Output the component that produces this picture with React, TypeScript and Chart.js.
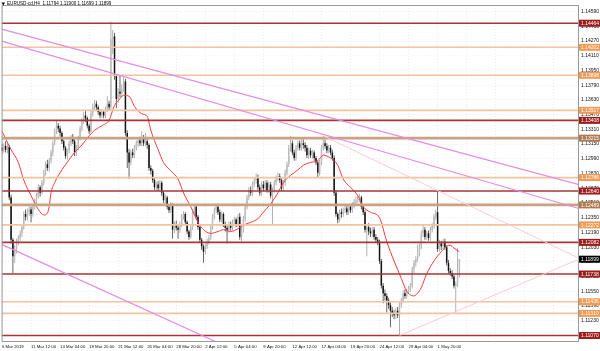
import React, { useEffect, useRef } from 'react';
import { Chart, registerables } from 'chart.js';

Chart.register(...registerables);

// ---------- data ----------
const symbolTitle = 'EURUSD-cd,H4  1.11794 1.11900 1.11699 1.11899';
const timeLabels = ['6 Mar 2019', '11 Mar 12:00', '14 Mar 04:00', '18 Mar 20:00', '21 Mar 12:00', '26 Mar 04:00', '28 Mar 20:00', '2 Apr 12:00', '5 Apr 04:00', '9 Apr 20:00', '12 Apr 12:00', '17 Apr 04:00', '19 Apr 20:00', '24 Apr 12:00', '29 Apr 04:00', '1 May 20:00'];
const barsPerLabel = 16;
const gridLastBar = 304;

const opens = [
  1.1311, 1.1308, 1.1313, 1.1309, 1.1312, 1.1257, 1.1211, 1.1193, 1.1201, 1.1209,
  1.1213, 1.1218, 1.1225, 1.1239, 1.1236, 1.1241, 1.1244, 1.1239, 1.1247, 1.1254,
  1.1259, 1.1268, 1.1262, 1.1273, 1.1284, 1.1293, 1.1289, 1.1297, 1.1306, 1.1316,
  1.1329, 1.1335, 1.1332, 1.1327, 1.1318, 1.1311, 1.1302, 1.1308, 1.1316, 1.1322,
  1.1318, 1.1306, 1.1311, 1.1322, 1.1332, 1.1340, 1.1346, 1.1343, 1.1335, 1.1329,
  1.1348, 1.1356, 1.1359, 1.1355, 1.1350, 1.1346, 1.1350, 1.1346, 1.1353, 1.1359,
  1.1355, 1.1429, 1.1432, 1.1389, 1.1364, 1.1372, 1.1370, 1.1375, 1.1383, 1.1327,
  1.1306, 1.1295, 1.1306, 1.1303, 1.1311, 1.1316, 1.1319, 1.1316, 1.1322, 1.1316,
  1.1318, 1.1314, 1.1289, 1.1286, 1.1276, 1.1268, 1.1271, 1.1267, 1.1273, 1.1262,
  1.1254, 1.1257, 1.1247, 1.1243, 1.1249, 1.1222, 1.1228, 1.1224, 1.1222, 1.1228,
  1.1236, 1.1239, 1.1230, 1.1220, 1.1214, 1.1225, 1.1241, 1.1247, 1.1236, 1.1225,
  1.1211, 1.1204, 1.1198, 1.1204, 1.1209, 1.1213, 1.1225, 1.1236, 1.1243, 1.1247,
  1.1241, 1.1233, 1.1239, 1.1228, 1.1224, 1.1222, 1.1228, 1.1224, 1.1230, 1.1233,
  1.1228, 1.1236, 1.1214, 1.1222, 1.1234, 1.1247, 1.1257, 1.1265, 1.1262, 1.1271,
  1.1276, 1.1279, 1.1268, 1.1262, 1.1271, 1.1267, 1.1273, 1.1265, 1.1271, 1.1259,
  1.1265, 1.1273, 1.1278, 1.1280, 1.1276, 1.1267, 1.1273, 1.1284, 1.1293, 1.1311,
  1.1316, 1.1306, 1.1300, 1.1311, 1.1316, 1.1311, 1.1316, 1.1314, 1.1311, 1.1303,
  1.1308, 1.1303, 1.1306, 1.1300, 1.1295, 1.1284, 1.1295, 1.1311, 1.1316, 1.1313,
  1.1308, 1.1311, 1.1306, 1.1300, 1.1262, 1.1239, 1.1233, 1.1241, 1.1239, 1.1243,
  1.1245, 1.1241, 1.1247, 1.1243, 1.1249, 1.1252, 1.1254, 1.1256, 1.1257, 1.1247,
  1.1241, 1.1222, 1.1225, 1.1220, 1.1218, 1.1222, 1.1214, 1.1211, 1.1209, 1.1188,
  1.1161, 1.1153, 1.1150, 1.1145, 1.1140, 1.1134, 1.1131, 1.1129, 1.1134, 1.1129,
  1.1140, 1.1145, 1.1153, 1.1150, 1.1155, 1.1158, 1.1161, 1.1179, 1.1186, 1.1190,
  1.1196, 1.1204, 1.1218, 1.1222, 1.1214, 1.1218, 1.1213, 1.1222, 1.1226, 1.1236,
  1.1241, 1.1201, 1.1207, 1.1204, 1.1209, 1.1203, 1.1186, 1.1177, 1.1175, 1.1171,
  1.1161, 1.1163, 1.11794,
];
const highs = [
  1.1315, 1.1316, 1.1318, 1.1316, 1.1314, 1.1260, 1.1213, 1.1205, 1.1212, 1.1216,
  1.1221, 1.1228, 1.1242, 1.1244, 1.1245, 1.1248, 1.1247, 1.1250, 1.1256, 1.1262,
  1.1271, 1.1270, 1.1276, 1.1287, 1.1296, 1.1298, 1.1300, 1.1309, 1.1319, 1.1332,
  1.1340, 1.1338, 1.1335, 1.1329, 1.1320, 1.1313, 1.1310, 1.1319, 1.1325, 1.1326,
  1.1320, 1.1314, 1.1324, 1.1335, 1.1343, 1.1350, 1.1351, 1.1345, 1.1337, 1.1351,
  1.1359, 1.1363, 1.1362, 1.1357, 1.1353, 1.1353, 1.1352, 1.1356, 1.1367, 1.1362,
  1.1448, 1.1439, 1.1436, 1.1391, 1.1376, 1.1389, 1.1380, 1.1389, 1.1386, 1.1330,
  1.1310, 1.1309, 1.1310, 1.1314, 1.1319, 1.1322, 1.1323, 1.1329, 1.1325, 1.1327,
  1.1321, 1.1316, 1.1292, 1.1288, 1.1278, 1.1274, 1.1275, 1.1276, 1.1275, 1.1264,
  1.1260, 1.1259, 1.1249, 1.1252, 1.1251, 1.1231, 1.1232, 1.1228, 1.1231, 1.1239,
  1.1242, 1.1241, 1.1232, 1.1222, 1.1228, 1.1244, 1.1250, 1.1249, 1.1238, 1.1227,
  1.1213, 1.1206, 1.1207, 1.1212, 1.1216, 1.1228, 1.1239, 1.1246, 1.1251, 1.1250,
  1.1244, 1.1242, 1.1241, 1.1231, 1.1227, 1.1231, 1.1231, 1.1233, 1.1236, 1.1235,
  1.1239, 1.1240, 1.1225, 1.1237, 1.1250, 1.1260, 1.1268, 1.1269, 1.1274, 1.1279,
  1.1283, 1.1282, 1.1271, 1.1274, 1.1275, 1.1276, 1.1276, 1.1274, 1.1274, 1.1268,
  1.1276, 1.1281, 1.1284, 1.1283, 1.1279, 1.1276, 1.1287, 1.1296, 1.1314, 1.1324,
  1.1319, 1.1309, 1.1314, 1.1319, 1.1319, 1.1322, 1.1320, 1.1317, 1.1314, 1.1311,
  1.1311, 1.1309, 1.1308, 1.1302, 1.1297, 1.1298, 1.1314, 1.1324, 1.1320, 1.1316,
  1.1314, 1.1314, 1.1309, 1.1303, 1.1265, 1.1241, 1.1244, 1.1245, 1.1246, 1.1249,
  1.1249, 1.1250, 1.1250, 1.1252, 1.1255, 1.1258, 1.1260, 1.1261, 1.1259, 1.1250,
  1.1243, 1.1228, 1.1229, 1.1224, 1.1225, 1.1225, 1.1217, 1.1214, 1.1211, 1.1190,
  1.1164, 1.1157, 1.1153, 1.1148, 1.1143, 1.1138, 1.1135, 1.1137, 1.1138, 1.1143,
  1.1148, 1.1156, 1.1157, 1.1158, 1.1161, 1.1164, 1.1182, 1.1189, 1.1193, 1.1206,
  1.1207, 1.1221, 1.1228, 1.1225, 1.1221, 1.1221, 1.1225, 1.1229, 1.1239, 1.1244,
  1.1265, 1.1211, 1.1210, 1.1212, 1.1212, 1.1205, 1.1189, 1.1180, 1.1178, 1.1173,
  1.1166, 1.1202, 1.11900,
];
const lows = [
  1.1305, 1.1306, 1.1306, 1.1305, 1.1254, 1.1207, 1.1175, 1.1186, 1.1196, 1.1205,
  1.1210, 1.1214, 1.1222, 1.1232, 1.1232, 1.1237, 1.1230, 1.1236, 1.1244, 1.1250,
  1.1256, 1.1258, 1.1260, 1.1270, 1.1281, 1.1286, 1.1285, 1.1294, 1.1302, 1.1314,
  1.1326, 1.1328, 1.1323, 1.1315, 1.1308, 1.1299, 1.1298, 1.1305, 1.1313, 1.1315,
  1.1302, 1.1302, 1.1308, 1.1319, 1.1329, 1.1337, 1.1339, 1.1332, 1.1326, 1.1327,
  1.1345, 1.1352, 1.1352, 1.1347, 1.1343, 1.1343, 1.1343, 1.1343, 1.1350, 1.1352,
  1.1352, 1.1413, 1.1385, 1.1354, 1.1360, 1.1366, 1.1366, 1.1372, 1.1324, 1.1289,
  1.1277, 1.1292, 1.1300, 1.1300, 1.1308, 1.1312, 1.1313, 1.1313, 1.1313, 1.1313,
  1.1310, 1.1286, 1.1282, 1.1273, 1.1265, 1.1264, 1.1264, 1.1264, 1.1259, 1.1251,
  1.1250, 1.1244, 1.1240, 1.1240, 1.1212, 1.1218, 1.1221, 1.1212, 1.1219, 1.1225,
  1.1233, 1.1227, 1.1217, 1.1211, 1.1212, 1.1222, 1.1238, 1.1233, 1.1222, 1.1208,
  1.1200, 1.1186, 1.1195, 1.1201, 1.1206, 1.1211, 1.1222, 1.1233, 1.1240, 1.1238,
  1.1230, 1.1230, 1.1225, 1.1220, 1.1207, 1.1219, 1.1221, 1.1221, 1.1227, 1.1225,
  1.1225, 1.1211, 1.1209, 1.1219, 1.1231, 1.1244, 1.1254, 1.1259, 1.1259, 1.1268,
  1.1272, 1.1265, 1.1259, 1.1259, 1.1264, 1.1264, 1.1262, 1.1262, 1.1256, 1.1228,
  1.1262, 1.1270, 1.1275, 1.1273, 1.1264, 1.1264, 1.1270, 1.1281, 1.1290, 1.1307,
  1.1303, 1.1297, 1.1297, 1.1308, 1.1308, 1.1308, 1.1310, 1.1307, 1.1300, 1.1299,
  1.1300, 1.1299, 1.1297, 1.1292, 1.1279, 1.1281, 1.1292, 1.1308, 1.1310, 1.1305,
  1.1305, 1.1303, 1.1297, 1.1259, 1.1236, 1.1229, 1.1230, 1.1235, 1.1236, 1.1240,
  1.1238, 1.1238, 1.1240, 1.1240, 1.1245, 1.1249, 1.1251, 1.1252, 1.1244, 1.1238,
  1.1219, 1.1193, 1.1216, 1.1214, 1.1214, 1.1211, 1.1208, 1.1205, 1.1185, 1.1158,
  1.1142, 1.1145, 1.1132, 1.1136, 1.1116, 1.1127, 1.1125, 1.1125, 1.1126, 1.1107,
  1.1137, 1.1142, 1.1147, 1.1147, 1.1152, 1.1154, 1.1158, 1.1175, 1.1182, 1.1187,
  1.1193, 1.1201, 1.1214, 1.1211, 1.1211, 1.1210, 1.1210, 1.1219, 1.1223, 1.1233,
  1.1198, 1.1198, 1.1200, 1.1201, 1.1200, 1.1183, 1.1174, 1.1172, 1.1168, 1.1158,
  1.1132, 1.1160, 1.11699,
];
const closes = [
  1.1308, 1.1313, 1.1309, 1.1312, 1.1257, 1.1211, 1.1193, 1.1201, 1.1209, 1.1213,
  1.1218, 1.1225, 1.1239, 1.1236, 1.1241, 1.1244, 1.1239, 1.1247, 1.1254, 1.1259,
  1.1268, 1.1262, 1.1273, 1.1284, 1.1293, 1.1289, 1.1297, 1.1306, 1.1316, 1.1329,
  1.1335, 1.1332, 1.1327, 1.1318, 1.1311, 1.1302, 1.1308, 1.1316, 1.1322, 1.1318,
  1.1306, 1.1311, 1.1322, 1.1332, 1.1340, 1.1346, 1.1343, 1.1335, 1.1329, 1.1348,
  1.1356, 1.1359, 1.1355, 1.1350, 1.1346, 1.1350, 1.1346, 1.1353, 1.1359, 1.1355,
  1.1429, 1.1432, 1.1389, 1.1364, 1.1372, 1.1370, 1.1375, 1.1383, 1.1327, 1.1306,
  1.1295, 1.1306, 1.1303, 1.1311, 1.1316, 1.1319, 1.1316, 1.1322, 1.1316, 1.1318,
  1.1314, 1.1289, 1.1286, 1.1276, 1.1268, 1.1271, 1.1267, 1.1273, 1.1262, 1.1254,
  1.1257, 1.1247, 1.1243, 1.1249, 1.1222, 1.1228, 1.1224, 1.1222, 1.1228, 1.1236,
  1.1239, 1.1230, 1.1220, 1.1214, 1.1225, 1.1241, 1.1247, 1.1236, 1.1225, 1.1211,
  1.1204, 1.1198, 1.1204, 1.1209, 1.1213, 1.1225, 1.1236, 1.1243, 1.1247, 1.1241,
  1.1233, 1.1239, 1.1228, 1.1224, 1.1222, 1.1228, 1.1224, 1.1230, 1.1233, 1.1228,
  1.1236, 1.1214, 1.1222, 1.1234, 1.1247, 1.1257, 1.1265, 1.1262, 1.1271, 1.1276,
  1.1279, 1.1268, 1.1262, 1.1271, 1.1267, 1.1273, 1.1265, 1.1271, 1.1259, 1.1265,
  1.1273, 1.1278, 1.1280, 1.1276, 1.1267, 1.1273, 1.1284, 1.1293, 1.1311, 1.1316,
  1.1306, 1.1300, 1.1311, 1.1316, 1.1311, 1.1316, 1.1314, 1.1311, 1.1303, 1.1308,
  1.1303, 1.1306, 1.1300, 1.1295, 1.1284, 1.1295, 1.1311, 1.1316, 1.1313, 1.1308,
  1.1311, 1.1306, 1.1300, 1.1262, 1.1239, 1.1233, 1.1241, 1.1239, 1.1243, 1.1245,
  1.1241, 1.1247, 1.1243, 1.1249, 1.1252, 1.1254, 1.1256, 1.1257, 1.1247, 1.1241,
  1.1222, 1.1225, 1.1220, 1.1218, 1.1222, 1.1214, 1.1211, 1.1209, 1.1188, 1.1161,
  1.1153, 1.1150, 1.1145, 1.1140, 1.1134, 1.1131, 1.1129, 1.1134, 1.1129, 1.1140,
  1.1145, 1.1153, 1.1150, 1.1155, 1.1158, 1.1161, 1.1179, 1.1186, 1.1190, 1.1196,
  1.1204, 1.1218, 1.1222, 1.1214, 1.1218, 1.1213, 1.1222, 1.1226, 1.1236, 1.1241,
  1.1201, 1.1207, 1.1204, 1.1209, 1.1203, 1.1186, 1.1177, 1.1175, 1.1171, 1.1161,
  1.1163, 1.11794, 1.11899,
];

// moving average at these bars
const maBars = [0, 5, 9, 12, 16, 20, 23, 25, 26, 27, 29, 33, 37, 40, 44, 48, 51, 55, 59, 62, 64, 67, 70, 73, 77, 80, 82, 86, 89, 93, 97, 100, 104, 108, 111, 115, 119, 122, 126, 130, 133, 137, 141, 144, 148, 152, 155, 159, 163, 166, 170, 174, 177, 179, 181, 185, 188, 192, 196, 199, 203, 208, 212, 216, 220, 223, 227, 229, 231, 234, 238, 242, 245, 247, 249, 252];
const maValues = [1.1329, 1.1309, 1.1295, 1.1276, 1.1259, 1.1244, 1.1238, 1.1240, 1.1247, 1.1262, 1.1273, 1.1287, 1.1298, 1.1306, 1.1314, 1.1324, 1.1330, 1.1335, 1.1341, 1.1357, 1.1362, 1.1368, 1.1367, 1.1356, 1.1348, 1.1345, 1.1330, 1.1309, 1.1295, 1.1286, 1.1277, 1.1262, 1.1247, 1.1230, 1.1222, 1.1218, 1.1220, 1.1222, 1.1220, 1.1223, 1.1227, 1.1230, 1.1234, 1.1241, 1.1250, 1.1262, 1.1273, 1.1281, 1.1287, 1.1292, 1.1295, 1.1297, 1.1303, 1.1302, 1.1300, 1.1292, 1.1277, 1.1268, 1.1259, 1.1247, 1.1241, 1.1235, 1.1209, 1.1188, 1.1169, 1.1155, 1.1150, 1.1153, 1.1159, 1.1174, 1.1188, 1.1198, 1.1204, 1.1205, 1.1202, 1.1198];

// horizontal levels
const levelPrices = [1.14464, 1.14202, 1.13898, 1.13517, 1.13408, 1.13215, 1.12786, 1.12640, 1.12489, 1.12272, 1.12082, 1.11738, 1.11436, 1.11310, 1.11070];
const levelKinds = ['R', 'O', 'O', 'O', 'R', 'B', 'O', 'R', 'B', 'O', 'R', 'R', 'O', 'O', 'R'];

// trend lines (bar index, price)
const trendStartBars = [-0.22, -0.22, -0.22, 177, 219];
const trendStartPrices = [1.1440, 1.1427, 1.1206, 1.1324, 1.1107];
const trendEndBars = [317.9, 317.9, 142.6, 317.9, 317.9];
const trendEndPrices = [1.1271, 1.1245, 1.1078, 1.1191, 1.1190];
const trendKinds = ['main', 'main', 'main', 'faint', 'faint'];

const priceTicks = [1.1459, 1.1443, 1.1427, 1.1411, 1.1395, 1.1379, 1.1363, 1.1347, 1.1331, 1.1315, 1.1299, 1.1283, 1.1267, 1.1251, 1.1235, 1.1219, 1.1203, 1.1187, 1.1171, 1.1155, 1.1139, 1.1123, 1.1107];
const lastPrice = 1.11899;

const xMin = -0.22;
const xMax = 317.9;
const yMin = 1.10999;
const yMax = 1.14662;

// ---------- styles ----------
const FONT = '"Liberation Sans", Arial, sans-serif';
const levelLineColor: Record<string, string> = { R: '#a83434', O: '#f3c29e', B: '#c9a282' };
const levelLineWidth: Record<string, number> = { R: 1.6, O: 1.6, B: 2.6 };
const levelBoxColor: Record<string, string> = { R: '#9c1c1c', O: '#ef9a55', B: '#ad7a52' };
const trendColor: Record<string, string> = { main: '#e48ce4', faint: '#ffc8d6' };

const overlayPlugin = {
  id: 'mt4overlay',
  afterDraw(chart: any) {
    const { ctx, chartArea: a, scales } = chart;
    const ys = scales.y;
    ctx.save();
    // frame
    ctx.strokeStyle = '#9a9a9a';
    ctx.lineWidth = 1;
    ctx.strokeRect(a.left + 0.5, a.top + 0.5, a.right - a.left - 1, a.bottom - a.top - 1);
    // level boxes on the price axis
    ctx.font = `5px ${FONT}`;
    ctx.textAlign = 'left';
    ctx.textBaseline = 'middle';
    const boxLeft = a.right;
    const boxW = chart.width - a.right;
    levelPrices.forEach((p, k) => {
      const py = ys.getPixelForValue(p);
      ctx.fillStyle = levelBoxColor[levelKinds[k]];
      ctx.fillRect(boxLeft, py - 3.5, boxW, 7);
      ctx.fillStyle = '#ffffff';
      ctx.fillText(p.toFixed(5), boxLeft + 2, py + 0.3);
    });
    const lp = ys.getPixelForValue(lastPrice);
    ctx.fillStyle = '#000000';
    ctx.fillRect(boxLeft, lp - 3.5, boxW, 7);
    ctx.fillStyle = '#ffffff';
    ctx.fillText(lastPrice.toFixed(5), boxLeft + 2, lp + 0.3);
    // header
    ctx.fillStyle = '#000';
    ctx.beginPath();
    ctx.moveTo(1.5, 2.5);
    ctx.lineTo(5, 2.5);
    ctx.lineTo(3.25, 5.5);
    ctx.closePath();
    ctx.fill();
    ctx.font = `4.6px ${FONT}`;
    ctx.textBaseline = 'middle';
    ctx.fillText(symbolTitle, 7, 4.2);
    ctx.restore();
  },
};

function buildConfig(): any {
  const isBull = closes.map((c, i) => c >= opens[i]);
  const bodyColors = isBull.map((b) => (b ? '#bdbdbd' : '#141414'));
  const wickColors = isBull.map((b) => (b ? '#a8a8a8' : '#555555'));

  const levelSets = levelPrices.map((p, k) => ({
    type: 'line',
    data: [{ x: xMin, y: p }, { x: xMax, y: p }],
    borderColor: levelLineColor[levelKinds[k]],
    borderWidth: levelLineWidth[levelKinds[k]],
    pointRadius: 0,
    order: 3,
  }));
  const trendSets = trendStartBars.map((sb, k) => ({
    type: 'line',
    data: [{ x: sb, y: trendStartPrices[k] }, { x: trendEndBars[k], y: trendEndPrices[k] }],
    borderColor: trendColor[trendKinds[k]],
    borderWidth: trendKinds[k] === 'main' ? 1.2 : 1,
    pointRadius: 0,
    order: 2,
  }));

  const xTickBars: number[] = [];
  for (let b = 0; b <= gridLastBar; b += barsPerLabel) xTickBars.push(b);

  return {
    type: 'bar',
    data: {
      datasets: [
        {
          type: 'bar',
          data: lows.map((l, i) => ({ x: i, y: [l, highs[i]] })),
          backgroundColor: wickColors,
          barThickness: 0.9,
          grouped: false,
          inflateAmount: 0,
          borderWidth: 0,
          order: 6,
        },
        {
          type: 'bar',
          data: opens.map((o, i) => ({ x: i, y: [o, closes[i]] })),
          backgroundColor: bodyColors,
          barThickness: 1.5,
          minBarLength: 1,
          grouped: false,
          inflateAmount: 0,
          borderWidth: 0,
          order: 5,
        },
        {
          type: 'line',
          data: maBars.map((b, k) => ({ x: b, y: maValues[k] })),
          borderColor: '#f23b3b',
          borderWidth: 1,
          pointRadius: 0,
          cubicInterpolationMode: 'monotone',
          order: 4,
        },
        ...levelSets,
        ...trendSets,
      ],
    },
    options: {
      responsive: false,
      animation: false,
      devicePixelRatio: 1,
      layout: { padding: 0 },
      plugins: { legend: { display: false }, tooltip: { enabled: false } },
      scales: {
        x: {
          type: 'linear',
          min: xMin,
          max: xMax,
          offset: false,
          grid: { color: '#ececec', drawTicks: false, offset: false },
          border: { display: false, dash: [1, 2] },
          ticks: {
            autoSkip: false,
            maxRotation: 0,
            minRotation: 0,
            align: 'start',
            padding: 2,
            color: '#111',
            font: { size: 4.3, family: FONT },
            callback: (v: number) => {
              const k = Math.round(v / barsPerLabel);
              return k < timeLabels.length ? timeLabels[k] : '';
            },
          },
          afterBuildTicks: (s: any) => {
            s.ticks = xTickBars.map((v) => ({ value: v }));
          },
          afterFit: (s: any) => {
            s.height = 9;
          },
        },
        y: {
          position: 'right',
          min: yMin,
          max: yMax,
          grid: { color: '#ececec', drawTicks: false },
          border: { display: false, dash: [1, 2] },
          ticks: {
            padding: 2,
            color: '#111',
            font: { size: 5, family: FONT },
            callback: (v: number) => v.toFixed(5),
          },
          afterBuildTicks: (s: any) => {
            s.ticks = priceTicks.map((v) => ({ value: v }));
          },
          afterFit: (s: any) => {
            s.width = 21;
          },
        },
      },
    },
    plugins: [overlayPlugin],
  };
}

export default function App() {
  const ref = useRef<HTMLCanvasElement>(null);
  useEffect(() => {
    const canvas = ref.current;
    if (!canvas) return;
    const chart = new Chart(canvas, buildConfig());
    return () => chart.destroy();
  }, []);
  return (
    <div style={{ position: 'fixed', left: 0, top: 0, width: 600, height: 351, background: '#ffffff' }}>
      <canvas ref={ref} width={600} height={351} style={{ width: 600, height: 351, display: 'block' }} />
    </div>
  );
}
